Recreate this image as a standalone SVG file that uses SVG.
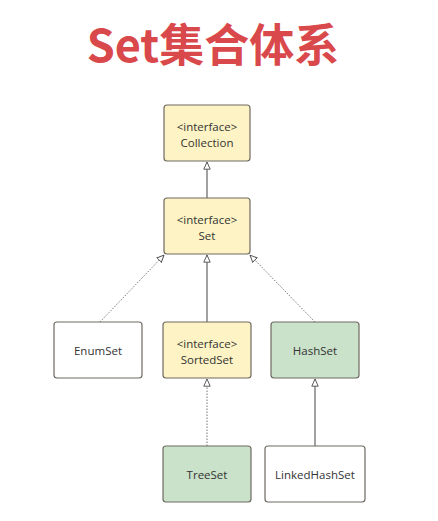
<svg xmlns="http://www.w3.org/2000/svg" width="438" height="521" viewBox="0 0 438 521">
<style>
.box{stroke:#6f6a62;stroke-width:1.2}
.iface{fill:#fdf3c4}
.cls{fill:#ffffff}
.impl{fill:#c9e2c9}
.t{font-family:"Open Sans","Noto Sans",sans-serif;font-size:11.5px;fill:#333;text-anchor:middle;dominant-baseline:central}
.solid{stroke:#555;stroke-width:1.1;fill:none}
.dot{stroke:#777;stroke-width:1;stroke-dasharray:1.5 1.5;fill:none}
</style>
<defs>
<marker id="tri" viewBox="0 0 10 10" refX="9.5" refY="5" markerWidth="8" markerHeight="8" markerUnits="userSpaceOnUse" orient="auto">
<path d="M0.5,1 L9.5,5 L0.5,9 Z" fill="#fff" stroke="#555" stroke-width="1.2"/>
</marker>
</defs>
<rect width="438" height="521" fill="#fff"/>
<text id="title" x="213" y="62" font-family="'Noto Sans CJK SC',sans-serif" font-weight="bold" font-size="45" fill="#d9484b" text-anchor="middle">Set集合体系</text>
<g id="connectors">
<line class="solid" x1="207" y1="198" x2="207" y2="162" marker-end="url(#tri)"/>
<line class="dot" x1="100" y1="322" x2="164" y2="255" marker-end="url(#tri)"/>
<line class="solid" x1="207" y1="322" x2="207" y2="255" marker-end="url(#tri)"/>
<line class="dot" x1="315" y1="322" x2="250" y2="255" marker-end="url(#tri)"/>
<line class="dot" x1="207" y1="446" x2="207" y2="379" marker-end="url(#tri)"/>
<line class="solid" x1="315" y1="446" x2="315" y2="379" marker-end="url(#tri)"/>
</g>
<g id="collection">
<rect class="box iface" x="164" y="105" width="86" height="56" rx="3"/>
<text class="t" x="207" y="126">&lt;interface&gt;</text>
<text class="t" x="207" y="142">Collection</text>
</g>
<g id="set">
<rect class="box iface" x="164" y="198" width="86" height="56" rx="3"/>
<text class="t" x="207" y="219">&lt;interface&gt;</text>
<text class="t" x="207" y="235">Set</text>
</g>
<g id="enumset">
<rect class="box cls" x="54" y="322" width="88" height="56" rx="3"/>
<text class="t" x="98" y="350">EnumSet</text>
</g>
<g id="sortedset">
<rect class="box iface" x="163" y="322" width="88" height="56" rx="3"/>
<text class="t" x="207" y="343">&lt;interface&gt;</text>
<text class="t" x="207" y="359">SortedSet</text>
</g>
<g id="hashset">
<rect class="box impl" x="271" y="322" width="88" height="56" rx="3"/>
<text class="t" x="315" y="350">HashSet</text>
</g>
<g id="treeset">
<rect class="box impl" x="163" y="446" width="88" height="56" rx="3"/>
<text class="t" x="207" y="474">TreeSet</text>
</g>
<g id="linkedhashset">
<rect class="box cls" x="265" y="446" width="100" height="56" rx="3"/>
<text class="t" x="315" y="474">LinkedHashSet</text>
</g>
</svg>
